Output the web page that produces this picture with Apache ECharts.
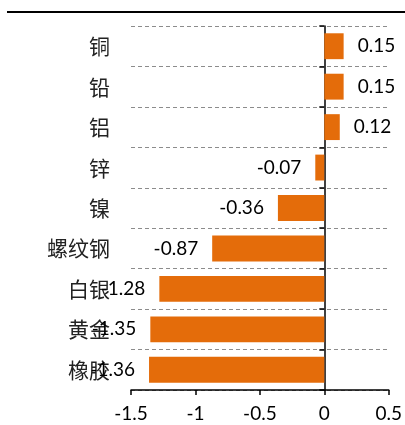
<!DOCTYPE html>
<html><head><meta charset="utf-8">
<script src="https://cdn.jsdelivr.net/npm/echarts@6/dist/echarts.min.js"></script>
<style>html,body{margin:0;padding:0;background:#fff}#c{width:405px;height:425px}</style>
</head><body><div id="c"></div>
<script>
const categories = ['铜','铅','铝','锌','镍','螺纹钢','白银','黄金','橡胶'];
const values = [0.15, 0.15, 0.12, -0.07, -0.36, -0.87, -1.28, -1.35, -1.36];
const xTicks = [-1.5, -1, -0.5, 0, 0.5];

const chart = echarts.init(document.getElementById('c'), null, {renderer:'canvas'});
const numFont = 'Lato, "Liberation Sans", sans-serif';
chart.setOption({
  animation: false,
  grid: {left: 131, right: 15, top: 26, bottom: 35, containLabel: false},
  graphic: [{type:'line', shape:{x1:7, y1:12, x2:405, y2:12}, style:{stroke:'#000', lineWidth:2}}],
  xAxis: {
    type: 'value', min: xTicks[0], max: xTicks[xTicks.length-1], interval: 0.5,
    axisLine: {show: true, onZero: false, lineStyle: {color:'#000', width:1.5}},
    axisTick: {show: true, length: 5, lineStyle: {color:'#000', width:1.5}},
    axisLabel: {margin: 14, fontSize: 19, color:'#000', fontFamily: numFont,
      formatter: v => String(v)},
    splitLine: {show: false}
  },
  yAxis: [{
    type: 'category', data: categories, inverse: true,
    axisLine: {show: false, onZero: false},
    axisTick: {show: false},
    axisLabel: {margin: 21, fontSize: 21, color:'#222', fontFamily: '"Noto Sans CJK SC", sans-serif'},
    splitLine: {show: true, lineStyle: {color:'#8c8c8c', type:[4,3], width:1}}
  },{
    type: 'category', data: categories, inverse: true, position: 'left',
    axisLine: {show: true, onZero: true, lineStyle: {color:'#000', width:1.5}},
    axisTick: {show: true, length: 5, lineStyle: {color:'#000', width:1.5}},
    axisLabel: {show: false},
    splitLine: {show: false}
  }],
  series: [{
    type: 'bar', yAxisIndex: 0, barCategoryGap: '36%',
    itemStyle: {color: '#E46C0A'},
    label: {show: true, fontSize: 19, color: '#000', fontFamily: numFont, distance: 14},
    data: values.map(v => ({value: v, label: {position: v < 0 ? 'left' : 'right'}}))
  }]
});
</script></body></html>
